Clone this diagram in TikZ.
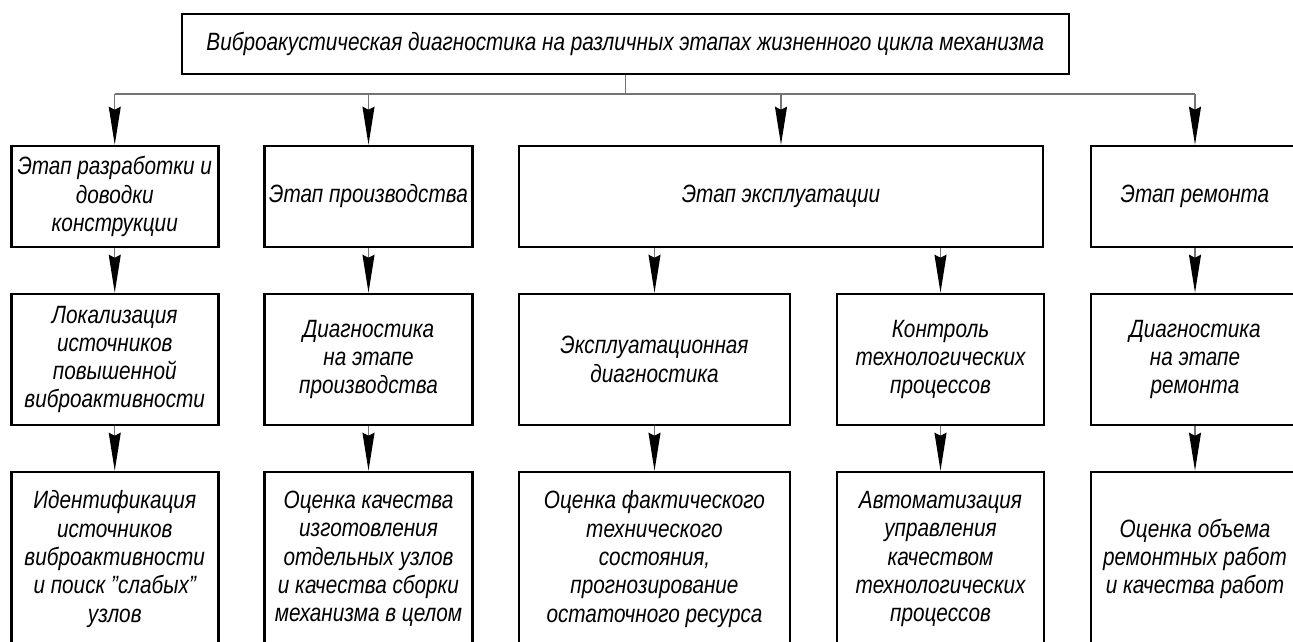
\documentclass[tikz,border=0pt]{standalone}
\usepackage{fontspec}
\setmainfont{Liberation Sans}[FakeStretch=0.83]
\usetikzlibrary{arrows.meta}

\begin{document}
\begin{tikzpicture}[x=1pt,y=-1pt,
		box/.style={draw,line width=2.6pt,align=center,inner sep=2pt,font=\itshape\fontsize{25}{28.3}\selectfont},
		stage/.style={box,minimum height=101pt},
		task/.style={box,minimum height=131pt},
		goal/.style={box,minimum height=174pt},
		link/.style={draw=black!55,line width=1.3pt},
		arrow/.style={link,-{Stealth[length=38pt,width=12pt,inset=3pt,color=black]}}]
		\useasboundingbox (0,0) rectangle (1293,642);
		\clip (0,0) rectangle (1293,642);
		\node[box,minimum width=887pt,minimum height=60pt] (root) at (625.3,44) {Виброакустическая диагностика на различных этапах жизненного цикла механизма};
		\node[stage,minimum width=207pt] (e1) at (114.75,196.5) {Этап разработки и\\доводки\\конструкции};
		\node[stage,minimum width=208pt] (e2) at (368.5,196.5) {Этап производства};
		\node[stage,minimum width=524pt] (e3) at (781,196.5) {Этап эксплуатации};
		\node[stage,minimum width=208pt] (e4) at (1195,196.5) {Этап ремонта};
		\node[task,minimum width=207pt] (d1) at (114.75,359.5) {Локализация\\источников\\повышенной\\виброактивности};
		\node[task,minimum width=208pt] (d2) at (368.5,359.5) {Диагностика\\на этапе\\производства};
		\node[task,minimum width=271pt] (d3) at (654.5,359.5) {Эксплуатационная\\диагностика};
		\node[task,minimum width=207pt] (d4) at (940.5,359.5) {Контроль\\технологических\\процессов};
		\node[task,minimum width=208pt] (d5) at (1195,359.5) {Диагностика\\на этапе\\ремонта};
		\node[goal,minimum width=207pt] (r1) at (114.75,559) {Идентификация\\источников\\виброактивности\\и поиск "слабых"\\узлов};
		\node[goal,minimum width=208pt] (r2) at (368.5,559) {Оценка качества\\изготовления\\отдельных узлов\\и качества сборки\\механизма в целом};
		\node[goal,minimum width=271pt] (r3) at (654.5,559) {Оценка фактического\\технического\\состояния,\\прогнозирование\\остаточного ресурса};
		\node[goal,minimum width=207pt] (r4) at (940.5,559) {Автоматизация\\управления\\качеством\\технологических\\процессов};
		\node[goal,minimum width=208pt] (r5) at (1195,559) {Оценка объема\\ремонтных работ\\и качества работ};
		\coordinate (bus) at (0,94);
		\draw[link] (root.south) -- (root.south |- bus);
		\draw[link] (e1 |- bus) -- (e4 |- bus);
		\foreach \n in {e1,e2,e3,e4}
			\draw[arrow] (\n |- bus) -- (\n);
		\foreach \a/\b in {e1/d1,e2/d2,e4/d5,d1/r1,d2/r2,d3/r3,d4/r4,d5/r5}
			\draw[arrow] (\a) -- (\b);
		\draw[arrow] (d3 |- e3.south) -- (d3);
		\draw[arrow] (d4 |- e3.south) -- (d4);
	\end{tikzpicture}
\end{document}
